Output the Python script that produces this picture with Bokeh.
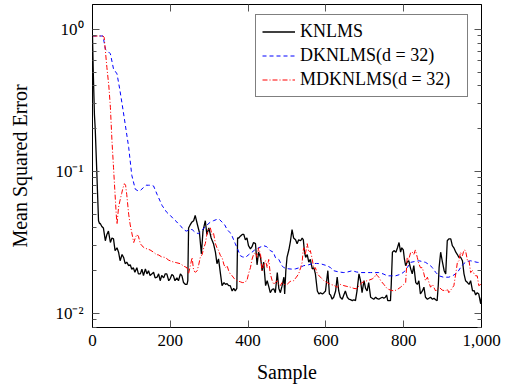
from bokeh.plotting import figure
from bokeh.models import (Range1d, FixedTicker, LinearAxis, LogAxis, Legend, LegendItem,
                          CustomJSTickFormatter, NumeralTickFormatter)
from bokeh.embed import file_html
from bokeh.resources import INLINE

# ---- data ----
knlms_x = [0, 2, 5, 7, 10, 13, 15.5, 18, 20, 24, 28, 33, 37, 41, 46, 50, 54, 58, 63, 67, 71, 76, 80, 84, 88, 93, 97,
           101, 105, 109, 114, 118, 123, 127, 131, 136, 140, 144, 148, 153, 157, 161, 166, 170, 174, 178, 183, 187,
           191, 196, 200, 204, 208, 212, 217, 221, 226, 230, 234, 239, 243, 245, 247, 251, 255, 260, 264, 269, 275,
           278, 280, 284, 290, 294, 299, 305, 311, 316, 320, 324, 329, 333, 338, 342, 346, 350, 354, 359, 363, 367,
           371, 373, 376, 380, 385, 389, 393, 397, 401, 406, 410, 414, 419, 423, 427, 432, 436, 440, 445, 449, 453,
           457, 462, 466, 470, 475, 479, 483, 487, 492, 494, 497, 500, 505, 509, 513, 517, 522, 526, 530, 535, 539,
           542, 545, 548, 552, 556, 560, 565, 569, 573, 578, 582, 586, 591, 595, 599, 605, 609, 612, 616, 620, 625,
           629, 633, 637, 642, 646, 650, 655, 659, 663, 668, 672, 676, 680, 685, 689, 693, 698, 702, 706, 710, 715,
           719, 723, 728, 732, 736, 740, 745, 749, 753, 756, 759, 762, 766, 768, 771, 775, 780, 784, 788, 792, 795,
           799, 802, 805, 809, 813, 818, 822, 826, 831, 835, 839, 843, 848, 852, 856, 861, 865, 869, 874, 878, 882,
           886, 889, 891, 895, 899, 904, 908, 912, 916, 921, 925, 929, 934, 938, 942, 946, 951, 955, 959, 964, 968,
           972, 977, 981, 985, 989, 993, 998, 1000]
knlms_y = [0.9, 0.5, 0.25, 0.2, 0.12, 0.07, 0.045, 0.043, 0.043, 0.041, 0.040, 0.0325, 0.036, 0.038, 0.0316, 0.034,
           0.0335, 0.0277, 0.029, 0.027, 0.0235, 0.026, 0.0248, 0.0224, 0.023, 0.0217, 0.022, 0.0205, 0.021, 0.0195,
           0.021, 0.019, 0.019, 0.0205, 0.0185, 0.0206, 0.019, 0.020, 0.0185, 0.019, 0.0195, 0.0178, 0.018, 0.019,
           0.017, 0.0185, 0.0178, 0.019, 0.019, 0.017, 0.0176, 0.0188, 0.0184, 0.017, 0.0178, 0.017, 0.019, 0.0184,
           0.0165, 0.016, 0.016, 0.017, 0.040, 0.042, 0.0438, 0.045, 0.049, 0.043, 0.037, 0.030, 0.0263, 0.038, 0.045,
           0.036, 0.040, 0.034, 0.031, 0.027, 0.0224, 0.0242, 0.019, 0.0157, 0.0165, 0.016, 0.0162, 0.0157, 0.0157,
           0.0144, 0.015, 0.0144, 0.0150, 0.034, 0.034, 0.035, 0.036, 0.036, 0.033, 0.034, 0.030, 0.0285, 0.0295,
           0.0316, 0.031, 0.022, 0.027, 0.0248, 0.020, 0.023, 0.0157, 0.017, 0.0155, 0.014, 0.0148, 0.0149, 0.014,
           0.0194, 0.015, 0.014, 0.0155, 0.018, 0.0137, 0.020, 0.0248, 0.0282, 0.0325, 0.039, 0.034, 0.033, 0.031,
           0.033, 0.0325, 0.034, 0.033, 0.027, 0.0248, 0.026, 0.023, 0.024, 0.0206, 0.021, 0.019, 0.0144, 0.0137,
           0.014, 0.0137, 0.014, 0.0144, 0.020, 0.0137, 0.0135, 0.0126, 0.013, 0.0144, 0.018, 0.0144, 0.013, 0.0126,
           0.0135, 0.0144, 0.013, 0.0126, 0.0125, 0.0123, 0.0125, 0.0123, 0.0144, 0.019, 0.017, 0.014, 0.017, 0.015,
           0.0144, 0.0165, 0.013, 0.0128, 0.0126, 0.013, 0.0127, 0.0126, 0.0128, 0.013, 0.0128, 0.013, 0.0135,
           0.0123, 0.0123, 0.0123, 0.016, 0.027, 0.0277, 0.027, 0.029, 0.0316, 0.027, 0.029, 0.028, 0.024, 0.0217,
           0.023, 0.0235, 0.0206, 0.019, 0.0217, 0.0165, 0.016, 0.017, 0.0137, 0.0144, 0.0153, 0.013, 0.0126, 0.0128,
           0.013, 0.0126, 0.0128, 0.0125, 0.0123, 0.016, 0.021, 0.027, 0.0235, 0.020, 0.019, 0.0325, 0.0335, 0.0335,
           0.030, 0.029, 0.027, 0.026, 0.0248, 0.025, 0.0235, 0.019, 0.017, 0.0165, 0.016, 0.017, 0.0144, 0.0145,
           0.0135, 0.014, 0.0137, 0.0117, 0.013]

dk_x = [0, 27, 33, 40, 46, 54, 63, 70, 76, 84, 93, 101, 110, 117, 123, 131, 138, 144, 151, 157, 166, 179, 191, 200,
        208, 217, 226, 234, 241, 251, 256, 265, 273, 280, 290, 303, 311, 320, 326, 333, 340, 346, 354, 359, 367, 374,
        380, 386, 393, 402, 410, 417, 427, 440, 448, 457, 465, 470, 479, 487, 492, 505, 514, 522, 532, 543, 555, 565,
        576, 586, 595, 603, 612, 620, 633, 646, 656, 668, 678, 689, 702, 715, 726, 736, 747, 758, 768, 779, 790, 800,
        809, 818, 828, 839, 848, 856, 866, 874, 882, 891, 902, 916, 927, 938, 946, 955, 963, 972, 980, 989, 1000]
dk_y = [0.9, 0.9, 0.73, 0.70, 0.674, 0.528, 0.487, 0.38, 0.30, 0.216, 0.148, 0.094, 0.075, 0.073, 0.0735, 0.077,
        0.080, 0.080, 0.080, 0.079, 0.069, 0.0575, 0.0515, 0.049, 0.0464, 0.044, 0.0415, 0.039, 0.038, 0.039, 0.039,
        0.037, 0.0365, 0.038, 0.041, 0.044, 0.045, 0.046, 0.046, 0.044, 0.042, 0.039, 0.037, 0.035, 0.031, 0.028,
        0.0255, 0.025, 0.0248, 0.026, 0.027, 0.028, 0.029, 0.030, 0.0295, 0.0277, 0.027, 0.0248, 0.024, 0.0217,
        0.021, 0.0206, 0.0205, 0.0206, 0.021, 0.0217, 0.022, 0.0224, 0.0225, 0.0224, 0.022, 0.0217, 0.021, 0.020,
        0.0196, 0.0194, 0.0196, 0.020, 0.0196, 0.0194, 0.0194, 0.0194, 0.0194, 0.0194, 0.019, 0.0184, 0.0184,
        0.0184, 0.0188, 0.0195, 0.021, 0.0229, 0.0232, 0.0235, 0.0232, 0.0229, 0.022, 0.021, 0.0195, 0.0184, 0.018,
        0.018, 0.0185, 0.0194, 0.021, 0.0225, 0.0232, 0.0235, 0.0232, 0.0229, 0.0228]

mdk_x = [0, 27, 30, 37, 42, 46, 50, 54, 58, 61, 63, 67, 71, 75, 78, 82, 85, 88, 93, 97, 101, 106, 110, 114, 118, 123,
         127, 133, 140, 148, 157, 164, 170, 178, 187, 195, 204, 215, 226, 235, 243, 247, 252, 256, 260, 265, 269, 273,
         277, 282, 286, 290, 294, 299, 303, 307, 311, 316, 320, 324, 329, 333, 338, 342, 346, 350, 354, 359, 365, 372,
         380, 385, 389, 393, 397, 401, 406, 410, 414, 419, 423, 427, 432, 436, 440, 445, 449, 453, 457, 462, 466, 470,
         475, 479, 483, 487, 492, 500, 508, 517, 524, 530, 535, 539, 541, 543, 547, 552, 556, 560, 565, 569, 573, 578,
         586, 595, 603, 612, 620, 629, 637, 646, 654, 663, 672, 680, 686, 693, 700, 706, 712, 719, 725, 729, 732, 736,
         741, 749, 758, 766, 775, 783, 792, 800, 805, 809, 813, 818, 822, 826, 830, 835, 839, 843, 848, 852, 856, 861,
         865, 869, 874, 882, 891, 899, 908, 912, 916, 924, 929, 935, 938, 942, 946, 951, 955, 959, 964, 968, 972, 977,
         981, 985, 989, 993, 998, 1000]
mdk_y = [0.9, 0.9, 0.88, 0.54, 0.40, 0.283, 0.165, 0.107, 0.069, 0.050, 0.0425, 0.056, 0.063, 0.070, 0.076, 0.082,
         0.080, 0.069, 0.050, 0.042, 0.037, 0.0316, 0.034, 0.036, 0.035, 0.031, 0.030, 0.029, 0.0285, 0.028, 0.027,
         0.026, 0.0258, 0.025, 0.0248, 0.0238, 0.0232, 0.0228, 0.0224, 0.0215, 0.021, 0.019, 0.022, 0.0248, 0.020,
         0.0195, 0.020, 0.022, 0.0248, 0.026, 0.029, 0.031, 0.036, 0.040, 0.040, 0.036, 0.037, 0.031, 0.029, 0.0277,
         0.0255, 0.0248, 0.022, 0.021, 0.0217, 0.020, 0.019, 0.0184, 0.0175, 0.017, 0.0167, 0.0165, 0.0165, 0.0168,
         0.017, 0.019, 0.021, 0.024, 0.026, 0.027, 0.0248, 0.029, 0.026, 0.020, 0.022, 0.0235, 0.021, 0.024, 0.019,
         0.017, 0.016, 0.0165, 0.017, 0.0158, 0.0157, 0.0165, 0.016, 0.016, 0.0168, 0.017, 0.018, 0.019, 0.021,
         0.0229, 0.027, 0.029, 0.026, 0.031, 0.027, 0.0277, 0.024, 0.0206, 0.021, 0.019, 0.018, 0.017, 0.0165, 0.016,
         0.0158, 0.0153, 0.016, 0.0157, 0.0155, 0.0153, 0.015, 0.0149, 0.0158, 0.0165, 0.0168, 0.017, 0.0172, 0.0175,
         0.018, 0.019, 0.0185, 0.018, 0.017, 0.016, 0.0149, 0.0146, 0.0144, 0.0147, 0.0153, 0.016, 0.0165, 0.0248,
         0.024, 0.027, 0.027, 0.026, 0.028, 0.0248, 0.0224, 0.021, 0.021, 0.019, 0.017, 0.018, 0.0165, 0.0153, 0.016,
         0.0144, 0.0153, 0.0146, 0.0144, 0.0149, 0.014, 0.015, 0.0157, 0.020, 0.0229, 0.0235, 0.027, 0.0255, 0.028,
         0.0277, 0.0235, 0.0235, 0.0194, 0.020, 0.019, 0.0184, 0.0184, 0.0157, 0.016, 0.016]

x_ticks = [0, 200, 400, 600, 800, 1000]
y_ticks = [0.01, 0.1, 1.0]
series_labels = ["KNLMS", "DKNLMS(d = 32)", "MDKNLMS(d = 32)"]

FONT = "Liberation Serif"

p = figure(width=511, height=387, y_axis_type="log", output_backend="svg", toolbar_location=None,
           x_range=Range1d(0, 1000), y_range=Range1d(0.00796, 1.5),
           min_border_left=92, min_border_right=30, min_border_top=4, min_border_bottom=60)
p.background_fill_color = "white"
p.border_fill_color = "white"
p.outline_line_color = "black"
p.outline_line_width = 1
p.xgrid.visible = False
p.ygrid.visible = False

minor_y = [m * 10.0 ** e for e in (-3, -2, -1, 0) for m in range(2, 10)]
xt = FixedTicker(ticks=x_ticks, minor_ticks=[])
yt = FixedTicker(ticks=y_ticks, minor_ticks=minor_y)

sup_code = """
const e = Math.round(Math.log10(tick));
const m = {"-": "\u207b", "0": "\u2070", "1": "\u00b9", "2": "\u00b2", "3": "\u00b3", "4": "\u2074",
           "5": "\u2075", "6": "\u2076", "7": "\u2077", "8": "\u2078", "9": "\u2079"};
return "10" + String(e).split("").map(c => m[c]).join("");
"""

def style_axis(ax, labels=True):
    ax.major_tick_in = 7
    ax.major_tick_out = 0
    ax.minor_tick_in = 4
    ax.minor_tick_out = 0
    ax.axis_line_color = "black"
    ax.major_tick_line_color = "#555555"
    ax.minor_tick_line_color = "#555555"
    ax.major_label_text_font = FONT
    ax.axis_label_text_font = FONT
    ax.axis_label_text_font_size = "20px"
    ax.axis_label_text_font_style = "normal"
    ax.axis_label_text_color = "black"
    if labels:
        ax.major_label_text_font_size = "17px"
        ax.major_label_text_color = "black"
    else:
        ax.major_label_text_font_size = "1px"
        ax.major_label_text_color = None
        ax.major_label_standoff = 0

xa = p.xaxis[0]
xa.ticker = xt
xa.formatter = NumeralTickFormatter(format="0,0")
xa.axis_label = "Sample"
xa.major_label_standoff = 7
xa.axis_label_standoff = 12
style_axis(xa)

ya = p.yaxis[0]
ya.ticker = yt
ya.formatter = CustomJSTickFormatter(code=sup_code)
ya.axis_label = "Mean Squared Error"
ya.major_label_standoff = 9
ya.axis_label_standoff = 21
style_axis(ya)

top = LinearAxis(ticker=xt)
style_axis(top, labels=False)
p.add_layout(top, "above")
right = LogAxis(ticker=yt)
style_axis(right, labels=False)
p.add_layout(right, "right")

r1 = p.line(knlms_x, knlms_y, line_color="black", line_width=1.3)
r2 = p.line(dk_x, dk_y, line_color="blue", line_width=1.0, line_dash="4 3")
r3 = p.line(mdk_x, mdk_y, line_color="red", line_width=1.0, line_dash="5 2 1 2")

legend = Legend(items=[LegendItem(label=series_labels[0], renderers=[r1]),
                       LegendItem(label=series_labels[1], renderers=[r2]),
                       LegendItem(label=series_labels[2], renderers=[r3])],
                location=(163, 230))
legend.label_text_font = FONT
legend.label_text_font_size = "18px"
legend.label_text_color = "black"
legend.glyph_width = 33
legend.glyph_height = 19
legend.label_height = 19
legend.label_width = 161
legend.label_standoff = 5
legend.spacing = 3
legend.padding = 6
legend.margin = 0
legend.border_line_color = "black"
legend.border_line_width = 1
legend.background_fill_alpha = 1.0
p.add_layout(legend, "center")

open("out.html", "w").write(file_html(p, INLINE))
